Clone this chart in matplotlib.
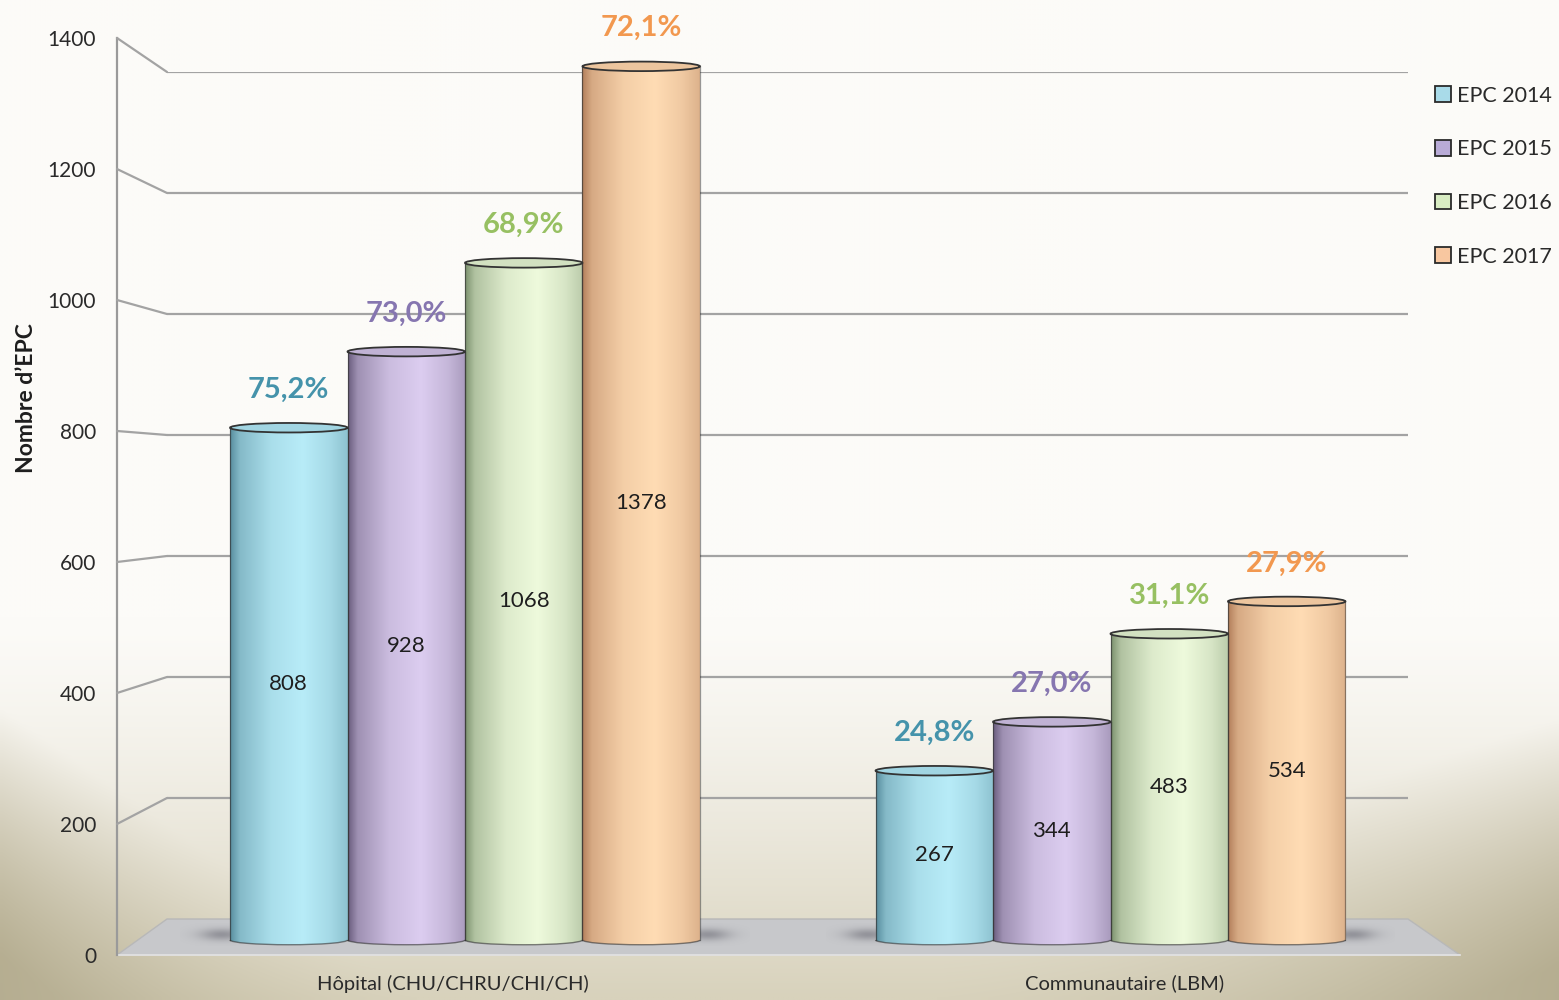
import numpy as np
import matplotlib.pyplot as plt
from matplotlib.patches import Ellipse, Arc, Polygon, Patch, ConnectionPatch
from matplotlib.colors import to_rgb

plt.rcParams['font.family'] = ['Lato', 'DejaVu Sans']

groups = ['Hôpital (CHU/CHRU/CHI/CH)', 'Communautaire (LBM)']
series = ['EPC 2014', 'EPC 2015', 'EPC 2016', 'EPC 2017']
hopital = [808, 928, 1068, 1378]
communautaire = [267, 344, 483, 534]
pct_hopital = ['75,2%', '73,0%', '68,9%', '72,1%']
pct_communautaire = ['24,8%', '27,0%', '31,1%', '27,9%']
yticks = [0, 200, 400, 600, 800, 1000, 1200, 1400]

# light / dark shade of each cylinder, legend fill, label colour
light = ['#b8ecf8', '#dccdf0', '#eefadc', '#ffdcb4']
dark = ['#5a90a0', '#6c5f80', '#7e9470', '#b4805c']
legend_fill = ['#a9dbe9', '#b9abd7', '#d8ecc2', '#f8c7a0']
pct_color = ['#4593ab', '#8676b0', '#97c062', '#f2984f']

W, H = 1559, 1000
fig = plt.figure(figsize=(W / 100, H / 100), dpi=100)

# background wash: near white on top, tan sweeps in the lower corners
bg = fig.add_axes([0, 0, 1, 1])
bg.set_axis_off()
gh, gw = 200, 312
u, v = np.meshgrid(np.linspace(0, 1, gw), np.linspace(0, 1, gh))
top = np.array(to_rgb('#fcfbf8'))
mid = np.array(to_rgb('#d8d2bc'))
low = np.array(to_rgb('#b4ac8f'))
f = np.clip((v - 0.62) / 0.38, 0, 1) ** 1.3
left_edge = 0.81 + 0.7 * u * W / H
right_edge = 0.82 + 0.33 * (1 - u) * W / H
corner = np.clip((v - np.minimum(left_edge, right_edge)) * 4 + 0.4, 0, 1)
corner *= np.clip(np.abs(u - 0.5) * 2.4 - 0.25, 0, 1)
img = top * (1 - f)[..., None] + mid * f[..., None]
img = img * (1 - corner)[..., None] + low * corner[..., None]
bg.imshow(img, extent=[0, 1, 0, 1], aspect='auto', interpolation='bilinear')
bg.set_xlim(0, 1)
bg.set_ylim(0, 1)

# back wall
ax_back = fig.add_axes([167 / W, 1 - 919 / H, (1408 - 167) / W, (919 - 72) / H])
ax_back.set_xlim(0, 1)
ax_back.set_ylim(0, 1400)
ax_back.set_axis_off()
for t in yticks[1:]:
    ax_back.axhline(t, color='#a3a3a3', lw=1.6)

# front axis with the floor and the category names
ax_front = fig.add_axes([117 / W, 1 - 955 / H, (1460 - 117) / W, (955 - 38) / H])
ax_front.patch.set_visible(False)
ax_front.set_xlim(0, 1)
ax_front.set_ylim(0, 1400)
for s in ['top', 'right', 'bottom']:
    ax_front.spines[s].set_visible(False)
ax_front.spines['left'].set_color('#9a9a9a')
ax_front.spines['left'].set_linewidth(1.6)
ax_front.set_xticks([0.25, 0.75], groups)
ax_front.set_yticks(yticks)
ax_front.tick_params(axis='y', length=0, pad=15, labelsize=15, labelcolor='#2a2a2a')
ax_front.tick_params(axis='x', length=0, pad=14, labelsize=14.5, labelcolor='#2a2a2a')

for t in yticks[1:]:
    con = ConnectionPatch(xyA=(0, t), coordsA=ax_front.transData,
                          xyB=(0, t), coordsB=ax_back.transData,
                          color='#a3a3a3', lw=1.6)
    fig.add_artist(con)

back_pts = ax_back.transData.transform([(1, 0), (0, 0)])
back_pts = ax_front.transData.inverted().transform(back_pts)
floor = Polygon([(0, 0), (1, 0), tuple(back_pts[0]), tuple(back_pts[1])],
                closed=True, facecolor='#c7c8cb', edgecolor='#b8b8b8',
                lw=1.0, clip_on=False)
ax_front.add_patch(floor)
ax_front.plot([0, 1], [0, 0], color='#e6e6e6', lw=1.2, clip_on=False)

# cylinders
ax = fig.add_axes([142.25 / W, 1 - 959 / H, 1291 / W, (959 - 52.4) / H])
ax.patch.set_visible(False)
ax.set_axis_off()
xlim = (-0.5, 1.5)
ylim = (-30, 1400)

w = 0.182
cap_h = 15
xg = np.linspace(0, 1, 120)
shade = np.interp(xg, [0, 0.08, 0.35, 0.62, 0.85, 1], [0, 0.45, 0.85, 1, 0.8, 0.55])

# soft shadow on the floor at both ends of each group
sx, sy = np.meshgrid(np.linspace(-1, 1, 80), np.linspace(-1, 1, 40))
blob = np.zeros((40, 80, 4))
blob[..., :3] = to_rgb('#60606a')
blob[..., 3] = 0.5 * np.exp(-(sx ** 2 + sy ** 2) * 3.5)
for g in range(2):
    for side in (-1, 1):
        cx = g + side * (2 * w + 0.012)
        ax.imshow(blob, extent=[cx - 0.065, cx + 0.065, -10, 26], aspect='auto',
                  interpolation='bilinear', zorder=1)

for g, (vals, pcts) in enumerate([(hopital, pct_hopital),
                                  (communautaire, pct_communautaire)]):
    xs = g + (np.arange(4) - 1.5) * w
    bars = ax.bar(xs, vals, width=w, facecolor='none', edgecolor='none', zorder=2)
    for j, (rect, val, pct) in enumerate(zip(bars, vals, pcts)):
        lo, hi = np.array(to_rgb(dark[j])), np.array(to_rgb(light[j]))
        row = lo * (1 - shade)[:, None] + hi * shade[:, None]
        grad = row[None, :, :]
        x0 = rect.get_x()
        xc = x0 + w / 2
        ax.imshow(grad, extent=[x0, x0 + w, 0, val], aspect='auto',
                  interpolation='bilinear', zorder=2)
        bottom = Ellipse((xc, 0), w, cap_h, transform=ax.transData)
        im = ax.imshow(grad, extent=[x0, x0 + w, -cap_h / 2, cap_h / 2],
                       aspect='auto', interpolation='bilinear', zorder=2)
        im.set_clip_path(bottom)
        ax.add_patch(Arc((xc, 0), w, cap_h, theta1=180, theta2=360,
                         edgecolor='#333333', lw=1.0, alpha=0.6, zorder=3))
        ax.plot([x0, x0], [0, val], color='#333333', lw=0.9, alpha=0.7, zorder=3)
        ax.plot([x0 + w, x0 + w], [0, val], color='#333333', lw=0.9, alpha=0.5, zorder=3)
        cap_col = lo * 0.25 + hi * 0.75
        ax.add_patch(Ellipse((xc, val), w, cap_h, facecolor=cap_col,
                             edgecolor='#333333', lw=1.3, zorder=4))
        ax.text(xc, val / 2, str(val), ha='center', va='center',
                fontsize=16, color='#1e1e1e', zorder=5)
        ax.annotate(pct, (xc, val), xytext=(0, 18), textcoords='offset points',
                    ha='center', va='bottom', fontsize=21, fontweight='bold',
                    color=pct_color[j], zorder=5)

ax.set_xlim(*xlim)
ax.set_ylim(*ylim)

fig.text(27 / W, 1 - 398 / H, 'Nombre d’EPC', rotation=90, ha='center',
         va='center', fontsize=16.5, fontweight='bold', color='#1e1e1e')

handles = [Patch(facecolor=c, edgecolor='#2a2a2a', lw=1.3) for c in legend_fill]
fig.legend(handles, series, loc='upper left',
           bbox_to_anchor=(1424 / W, 1 - 75 / H), frameon=False,
           fontsize=15.5, handlelength=0.75, handleheight=0.75,
           handletextpad=0.3, labelspacing=1.56, borderpad=0,
           labelcolor='#2a2a2a')

fig.savefig('out.png', dpi=100)
